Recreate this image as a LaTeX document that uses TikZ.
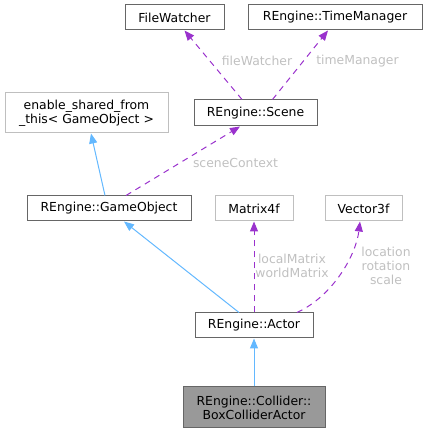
\documentclass[tikz,border=0pt]{standalone}
\usepackage{fontspec}
\setmainfont{DejaVu Sans}
\usetikzlibrary{arrows.meta,calc}
\definecolor{dkborder}{HTML}{666666}
\definecolor{ltborder}{HTML}{BFBFBF}
\definecolor{inhblue}{HTML}{63B8FF}
\definecolor{usepurple}{HTML}{9A32CD}
\definecolor{lblgrey}{HTML}{C0C0C0}
\definecolor{curfill}{HTML}{999999}
\tikzset{
  box/.style={draw=dkborder, line width=1pt, fill=white, inner sep=0pt, align=center,
     minimum height=25pt, font=\fontsize{12.4}{14}\selectfont, text=black},
  extbox/.style={box, draw=ltborder},
  curbox/.style={box, fill=curfill},
  inh/.style={draw=inhblue, line width=1pt, -{Triangle[length=10pt,width=8pt]}, shorten >=0pt},
  uses/.style={draw=usepurple, line width=1pt, dash pattern=on 6pt off 5pt,
     -{Triangle[length=10pt,width=8pt,fill=usepurple]}},
  lbl/.style={text=lblgrey, font=\fontsize{12.4}{14}\selectfont, align=center, inner sep=0pt}
}
\begin{document}
\begin{tikzpicture}[x=1pt,y=1pt]
\useasboundingbox (0,0) rectangle (427,433);
\node[box, minimum width=99pt]  (fw) at (174.5,415.5) {FileWatcher};
\node[box, minimum width=174pt] (tm) at (335,415.5) {REngine::TimeManager};
\node[box, minimum width=123pt, minimum height=26pt] (scene) at (255.5,320) {REngine::Scene};
\node[extbox, minimum width=163pt, minimum height=40pt] (esft) at (86.5,320) {enable\_shared\_from\\\_this< GameObject >};
\node[box, minimum width=164pt] (go) at (109,224.5) {REngine::GameObject};
\node[extbox, minimum width=78pt] (m4) at (254,224.5) {Matrix4f};
\node[extbox, minimum width=77pt] (v3) at (363.5,224.5) {Vector3f};
\node[box, minimum width=118pt] (actor) at (254,107.5) {REngine::Actor};
\node[curbox, minimum width=142pt, minimum height=41pt] (col) at (254,25.5) {REngine::Collider::\\BoxColliderActor};

\draw[inh] ($(go.north)+(-4,0)$) -- ($(esft.south)+(4.5,0)$);
\draw[uses] ($(go.north)+(17,0)$) -- ($(scene.south)+(-15.5,0)$);
\node[lbl] (l1) at (235.5,270) {sceneContext};
\draw[uses] ($(scene.north)+(-13.5,0)$) -- ($(fw.south)+(10,0)$);
\node[lbl] (l2) at (257,372) {fileWatcher};
\draw[uses] ($(scene.north)+(17,0)$) -- ($(tm.south)+(-7,0)$);
\node[lbl] (l3) at (357.5,372) {timeManager};
\draw[inh] ($(actor.north)+(-15,0)$) -- ($(go.south)+(15,0)$);
\draw[uses] (actor.north) -- (m4.south);
\node[lbl] (l4) at (292,167.5) {localMatrix\\worldMatrix};
\draw[uses] ($(actor.north)+(43,0)$) .. controls (333,137) and (356,178) .. ($(v3.south)+(-3.5,0)$);
\node[lbl] (l5) at (386,167) {location\\rotation\\scale};
\draw[inh] (col.north) -- (actor.south);
\end{tikzpicture}
\end{document}
